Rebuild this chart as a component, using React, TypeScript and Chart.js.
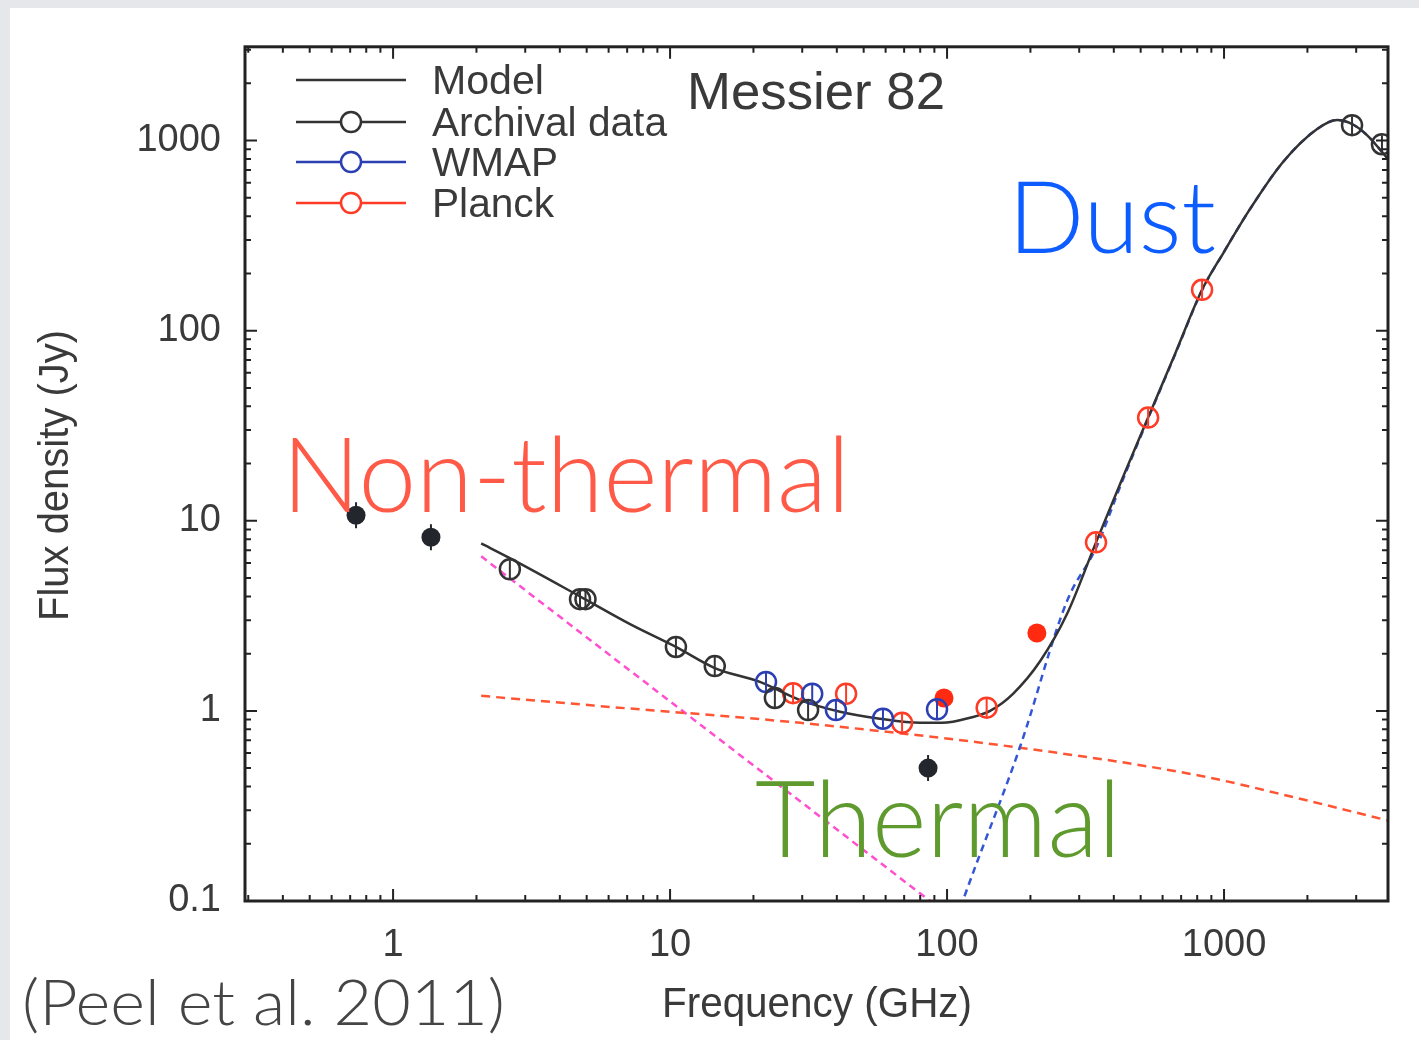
import React, { useEffect, useRef } from "react";
import { Chart, registerables } from "chart.js";
Chart.register(...registerables);

// ---- axis ranges / ticks ----
const X_MIN = 0.292;
const X_MAX = 3908;
const Y_MIN = 0.1;
const Y_MAX = 3113;
const xTickValues = [1, 10, 100, 1000];
const yTickValues = [0.1, 1, 10, 100, 1000];

// ---- data (GHz, Jy) ----
const archivalOpenFreq = [2.64, 4.73, 4.95, 10.5, 14.5, 23.9, 31.5, 2898, 3717];
const archivalOpenFlux = [5.56, 3.87, 3.87, 2.17, 1.72, 1.17, 1.01, 1205, 957];
const archivalFilledFreq = [0.735, 1.37, 85.4];
const archivalFilledFlux = [10.7, 8.2, 0.5];
const wmapFreq = [22.2, 32.6, 39.7, 58.7, 92];
const wmapFlux = [1.42, 1.23, 1.01, 0.91, 1.02];
const planckOpenFreq = [27.8, 43.2, 68.8, 139, 345, 532, 833];
const planckOpenFlux = [1.24, 1.23, 0.865, 1.04, 7.7, 34.9, 164];
const planckFilledFreq = [97.5, 211];
const planckFilledFlux = [1.17, 2.57];

const modelFreq = [2.08, 2.64, 4.85, 7.17, 10.5, 14.5, 21.1, 29.5, 41.1, 57.1, 80, 96, 121, 143, 173, 217, 271, 345, 428, 532, 666, 833, 1000, 1242, 1633, 2168, 2560, 2898, 3281, 3908];
const modelFlux = [7.6, 6.36, 3.92, 2.86, 2.17, 1.68, 1.42, 1.14, 0.99, 0.91, 0.865, 0.865, 0.92, 1.0, 1.23, 1.83, 3.23, 7.7, 16.5, 34.9, 75.7, 164, 260, 437, 771, 1149, 1282, 1222, 1069, 800];

const thermalFreq = [2.08, 5.59, 29.5, 183, 819, 1880, 3908];
const thermalFlux = [1.2, 1.06, 0.865, 0.64, 0.456, 0.345, 0.265];

const synchFreq = [2.08, 86.8, 110];
const synchFlux = [6.5, 0.1, 0.076];

const dustFreq = [105, 114, 183, 271, 345, 428, 532, 666, 833, 1000, 1242, 1633, 2168, 2560, 2898, 3281, 3908];
const dustFlux = [0.07, 0.1, 0.64, 3.78, 7.2, 16, 34.5, 75, 163, 260, 437, 771, 1149, 1282, 1222, 1069, 800];

const legendLabels = ["Model", "Archival data", "WMAP", "Planck"];

const BLACK = "#333333";
const BLUE = "#2b3fb3";
const RED = "#ff3b26";

const zip = (xs: number[], ys: number[]) => xs.map((x, i) => ({ x, y: ys[i] }));

function fitText(ctx: CanvasRenderingContext2D, text: string, x: number, baseline: number, size: number, width: number, color: string, family: string, weight = "normal", rotate = 0) {
  ctx.save();
  ctx.font = `${weight} ${size}px ${family}`;
  const w = ctx.measureText(text).width;
  ctx.translate(x, baseline);
  if (rotate) ctx.rotate(rotate);
  ctx.scale(width / w, 1);
  ctx.fillStyle = color;
  ctx.textBaseline = "alphabetic";
  ctx.textAlign = "left";
  ctx.fillText(text, 0, 0);
  ctx.restore();
}

const decorPlugin = {
  id: "decor",
  afterDatasetsDraw(chart: any) {
    const ctx: CanvasRenderingContext2D = chart.ctx;
    chart.data.datasets.forEach((ds: any, i: number) => {
      if (!ds.errLen) return;
      const meta = chart.getDatasetMeta(i);
      ctx.save();
      ctx.beginPath();
      ctx.rect(chart.chartArea.left, chart.chartArea.top, chart.chartArea.right - chart.chartArea.left, chart.chartArea.bottom - chart.chartArea.top);
      ctx.clip();
      ctx.strokeStyle = ds.borderColor;
      ctx.lineWidth = 2;
      meta.data.forEach((pt: any) => {
        ctx.beginPath();
        ctx.moveTo(pt.x, pt.y - ds.errLen);
        ctx.lineTo(pt.x, pt.y + ds.errLen);
        ctx.stroke();
      });
      ctx.restore();
    });
  },
  afterDraw(chart: any) {
    const ctx: CanvasRenderingContext2D = chart.ctx;
    const { left, right, top, bottom } = chart.chartArea;
    const xs = chart.scales.x;
    const ys = chart.scales.y;
    ctx.save();
    ctx.strokeStyle = "#222";
    ctx.lineWidth = 3;
    ctx.strokeRect(left, top, right - left, bottom - top);
    ctx.lineWidth = 2;
    for (let e = -1; e <= 3; e++) {
      for (let k = 1; k <= 9; k++) {
        const v = k * Math.pow(10, e);
        if (v < X_MIN || v > X_MAX) continue;
        const px = xs.getPixelForValue(v);
        const len = k === 1 ? 12 : 6;
        ctx.beginPath();
        ctx.moveTo(px, bottom);
        ctx.lineTo(px, bottom - len);
        ctx.moveTo(px, top);
        ctx.lineTo(px, top + len);
        ctx.stroke();
      }
    }
    for (let e = -1; e <= 3; e++) {
      for (let k = 1; k <= 9; k++) {
        const v = k * Math.pow(10, e);
        if (v < Y_MIN || v > Y_MAX) continue;
        const py = ys.getPixelForValue(v);
        const len = k === 1 ? 12 : 6;
        ctx.beginPath();
        ctx.moveTo(left, py);
        ctx.lineTo(left + len, py);
        ctx.moveTo(right, py);
        ctx.lineTo(right - len, py);
        ctx.stroke();
      }
    }
    // legend
    const legY = [80, 122, 162, 203];
    const legColors = [BLACK, BLACK, BLUE, RED];
    legY.forEach((y, i) => {
      ctx.strokeStyle = legColors[i];
      ctx.lineWidth = 2.5;
      ctx.beginPath();
      ctx.moveTo(296, y);
      ctx.lineTo(406, y);
      ctx.stroke();
      if (i > 0) {
        ctx.fillStyle = "#fff";
        ctx.beginPath();
        ctx.arc(351, y, 10, 0, Math.PI * 2);
        ctx.fill();
        ctx.stroke();
      }
    });
    const sans = "'Liberation Sans', Arial, sans-serif";
    const legW = [112, 235, 126, 122];
    legendLabels.forEach((t, i) => fitText(ctx, t, 432, legY[i] + 14, 40, legW[i], "#3a3a3a", sans));
    fitText(ctx, "Messier 82", 687, 109, 52, 258, "#3a3a3a", sans);
    fitText(ctx, "Frequency (GHz)", 662, 1017, 42, 310, "#3a3a3a", sans);
    fitText(ctx, "Flux density (Jy)", 68, 621, 42, 291, "#3a3a3a", sans, "normal", -Math.PI / 2);
    const gill = "'Gill Sans', Lato, 'Open Sans', sans-serif";
    fitText(ctx, "Non-thermal", 282, 512, 104, 568, "#ff5a48", gill, "300");
    fitText(ctx, "Dust", 1008, 253, 101, 208, "#0d5cff", gill, "300");
    fitText(ctx, "Thermal", 755, 857, 107, 366, "#5e9a2e", gill, "300");
    fitText(ctx, "(Peel et al. 2011)", 22, 1025, 64, 483, "#454545", gill, "300");
    ctx.restore();
  },
};

export default function App() {
  const ref = useRef<HTMLCanvasElement>(null);
  useEffect(() => {
    if (!ref.current) return;
    const common = { showLine: false, clip: 0 as any };
    const chart = new Chart(ref.current, {
      type: "scatter",
      data: {
        datasets: [
          { ...common, label: "Archival open", data: zip(archivalOpenFreq, archivalOpenFlux), pointRadius: 10, pointBorderWidth: 2.5, borderColor: BLACK, pointBackgroundColor: "rgba(0,0,0,0)", errLen: 9 } as any,
          { ...common, label: "WMAP", data: zip(wmapFreq, wmapFlux), pointRadius: 10, pointBorderWidth: 2.5, borderColor: BLUE, pointBackgroundColor: "rgba(0,0,0,0)", errLen: 9 } as any,
          { ...common, label: "Planck open", data: zip(planckOpenFreq, planckOpenFlux), pointRadius: 10, pointBorderWidth: 2.5, borderColor: RED, pointBackgroundColor: "rgba(0,0,0,0)", errLen: 9 } as any,
          { ...common, label: "Archival filled", data: zip(archivalFilledFreq, archivalFilledFlux), pointRadius: 9.5, pointBorderWidth: 0, borderColor: "#23262d", pointBackgroundColor: "#23262d", errLen: 13 } as any,
          { ...common, label: "Planck filled", data: zip(planckFilledFreq, planckFilledFlux), pointRadius: 9.5, pointBorderWidth: 0, borderColor: "#ff2a10", pointBackgroundColor: "#ff2a10" } as any,
          { label: "Model", data: zip(modelFreq, modelFlux), showLine: true, pointRadius: 0, borderColor: BLACK, borderWidth: 2.5, cubicInterpolationMode: "monotone", clip: 0 } as any,
          { label: "Dust", data: zip(dustFreq, dustFlux), showLine: true, pointRadius: 0, borderColor: "#3355d6", borderWidth: 2.5, borderDash: [7, 5], cubicInterpolationMode: "monotone", clip: 0 } as any,
          { label: "Free-free", data: zip(thermalFreq, thermalFlux), showLine: true, pointRadius: 0, borderColor: "#ff5533", borderWidth: 2.5, borderDash: [9, 6], cubicInterpolationMode: "monotone", clip: 0 } as any,
          { label: "Synchrotron", data: zip(synchFreq, synchFlux), showLine: true, pointRadius: 0, borderColor: "#ff4fcf", borderWidth: 2.5, borderDash: [7, 5], clip: 0 } as any,
        ],
      },
      options: {
        animation: false,
        responsive: true,
        maintainAspectRatio: false,
        layout: { padding: { left: 0, top: 45, right: 31, bottom: 0 } },
        plugins: { legend: { display: false }, tooltip: { enabled: false } },
        scales: {
          x: {
            type: "logarithmic",
            min: X_MIN,
            max: X_MAX,
            grid: { display: false, drawTicks: false },
            border: { display: false },
            afterBuildTicks: (s: any) => { s.ticks = xTickValues.map((v) => ({ value: v })); },
            afterFit: (s: any) => { s.height = 139; },
            ticks: {
              autoSkip: false,
              maxRotation: 0,
              padding: 22,
              color: "#3a3a3a",
              font: { family: "'Liberation Sans', Arial, sans-serif", size: 38 },
              callback: (v: any) => String(v),
            },
          },
          y: {
            type: "logarithmic",
            min: Y_MIN,
            max: Y_MAX,
            grid: { display: false, drawTicks: false },
            border: { display: false },
            afterBuildTicks: (s: any) => { s.ticks = yTickValues.map((v) => ({ value: v })); },
            afterFit: (s: any) => { s.width = 245; },
            ticks: {
              autoSkip: false,
              padding: 24,
              color: "#3a3a3a",
              font: { family: "'Liberation Sans', Arial, sans-serif", size: 38 },
              callback: (v: any) => String(v),
            },
          },
        },
      } as any,
      plugins: [decorPlugin],
    });
    return () => chart.destroy();
  }, []);

  return (
    <div style={{ position: "absolute", left: 0, top: 0, width: 1419, height: 1040, background: "#e6e7eb", overflow: "hidden" }}>
      <div style={{ position: "absolute", left: 10, top: 8, right: 0, bottom: 0, background: "#ffffff" }} />
      <div style={{ position: "absolute", left: 0, top: 0, width: 1419, height: 1040 }}>
        <canvas ref={ref} />
      </div>
    </div>
  );
}
